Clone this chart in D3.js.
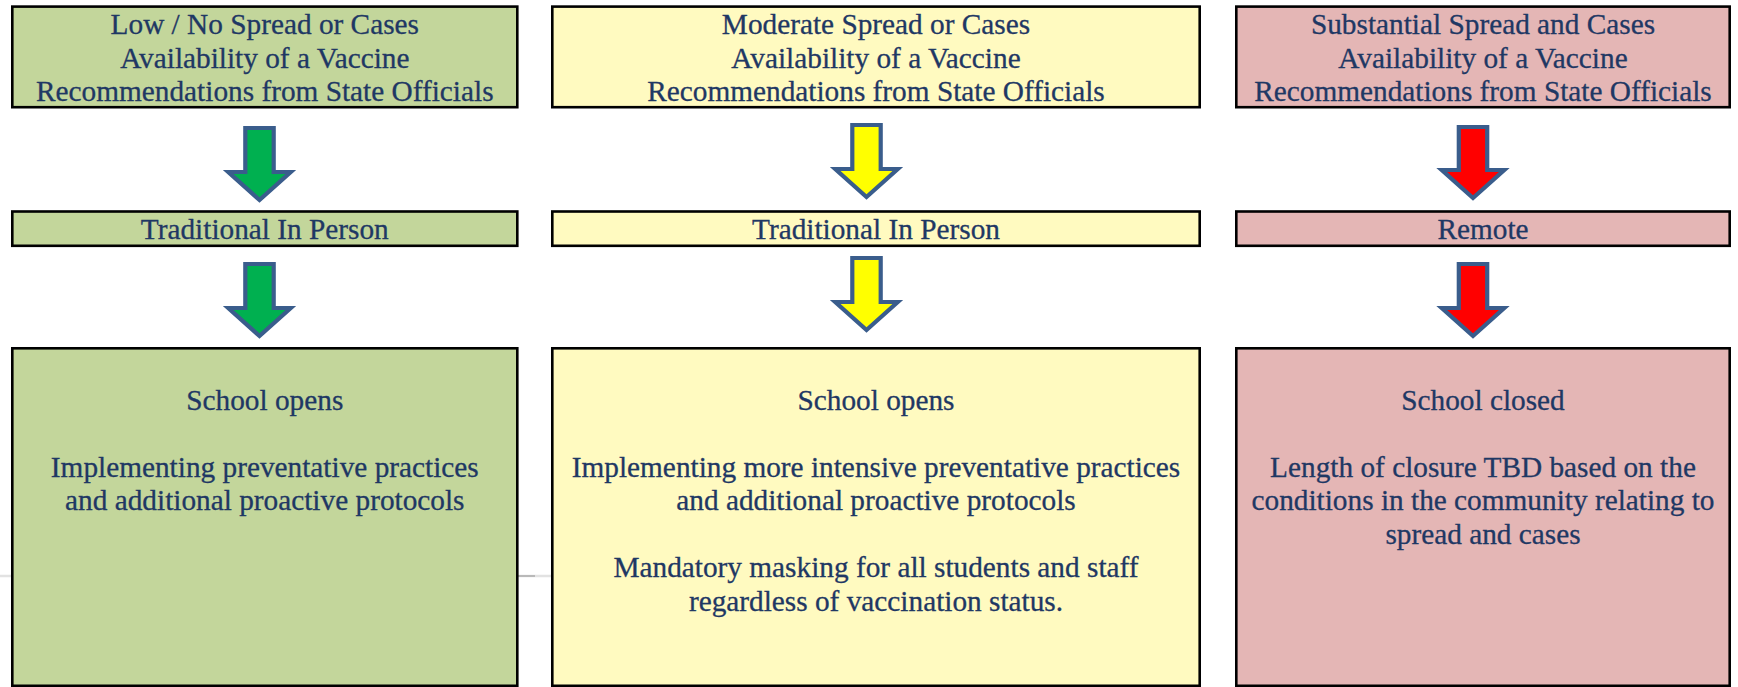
<!DOCTYPE html>
<html>
<head>
<meta charset="utf-8">
<script src="https://cdn.jsdelivr.net/npm/d3@7"></script>
<style>
  html, body { margin: 0; padding: 0; background: #fff; }
  svg { display: block; }
  svg text { font-family: "Liberation Serif", "Times New Roman", Times, serif; }
</style>
</head>
<body>
<div id="chart"></div>
<script>
// levels of spread, one per column
let levels = ["Low / No Spread or Cases", "Moderate Spread or Cases", "Substantial Spread and Cases"];
let conditions = ["Availability of a Vaccine", "Recommendations from State Officials"];
let modes = ["Traditional In Person", "Traditional In Person", "Remote"];
let outcomes = [
    ["School opens", "", "Implementing preventative practices", "and additional proactive protocols"],
    ["School opens", "", "Implementing more intensive preventative practices", "and additional proactive protocols", "", "Mandatory masking for all students and staff", "regardless of vaccination status."],
    ["School closed", "", "Length of closure TBD based on the", "conditions in the community relating to", "spread and cases"]
];

let w = 1738;
let h = 687;

let boxFill = ["#c3d69b", "#fffac0", "#e4b6b5"];
let arrowFill = ["#00b050", "#ffff00", "#ff0000"];
let textColor = "#1f3864";
let fs = 29.3;
let lh = 33.5;

// column edges and arrow centres
let colLeft = d3.scaleOrdinal().domain(d3.range(3)).range([12.3, 552.3, 1236.3]);
let colRight = d3.scaleOrdinal().domain(d3.range(3)).range([517.3, 1199.7, 1729.7]);
let arrowX = d3.scaleOrdinal().domain(d3.range(3)).range([259.5, 866.5, 1473]);

// rows: [top, bottom]
let rows = [[6.6, 107.2], [211.5, 245.8], [348.3, 685.8]];
// arrows: [top, shoulder, tip] for the upper and lower arrow of each column
let arrowRows = [
    [[128, 172, 200], [264, 308, 336]],
    [[125, 169, 197], [258, 302, 330]],
    [[127, 170, 198], [264, 308, 336]]
];

let svg = d3.select("#chart")
    .append("svg")
    .attr("width", w)
    .attr("height", h);

// faint grey rule that shows behind the boxes
svg.append("line")
    .attr("x1", 0).attr("x2", 552)
    .attr("y1", 576).attr("y2", 576)
    .attr("stroke", "#e2e2e2").attr("stroke-width", 2.5);
svg.append("line")
    .attr("x1", 518).attr("x2", 535)
    .attr("y1", 576).attr("y2", 576)
    .attr("stroke", "#b9b9b9").attr("stroke-width", 2);

let cols = svg.selectAll("g.col")
    .data(d3.range(3))
    .enter()
    .append("g")
    .attr("class", "col");

// boxes
rows.forEach((r) => {
    cols.append("rect")
        .attr("x", (i) => colLeft(i))
        .attr("y", r[0])
        .attr("width", (i) => colRight(i) - colLeft(i))
        .attr("height", r[1] - r[0])
        .attr("fill", (i) => boxFill[i])
        .attr("stroke", "#000")
        .attr("stroke-width", 2.6);
});

let cx = (i) => (colLeft(i) + colRight(i)) / 2;

function addLines(sel, linesOf, y0) {
    sel.each(function(i) {
        let g = d3.select(this);
        linesOf(i).forEach((t, k) => {
            if (!t) return;
            g.append("text")
                .attr("x", cx(i))
                .attr("y", y0 + k * lh)
                .attr("text-anchor", "middle")
                .style("font-size", fs + "px")
                .attr("fill", textColor)
                .attr("stroke", textColor)
                .attr("stroke-width", 0.3)
                .text(t);
        });
    });
}

addLines(cols, (i) => [levels[i]].concat(conditions), 34.2);
addLines(cols, (i) => [modes[i]], 238.5);
addLines(cols, (i) => outcomes[i], 409.5);

// down arrows
let shaft = 14.2;
let head = 31.2;
cols.each(function(i) {
    let g = d3.select(this);
    let x = arrowX(i);
    arrowRows[i].forEach((a) => {
        let pts = [
            [x - shaft, a[0]], [x + shaft, a[0]], [x + shaft, a[1]], [x + head, a[1]],
            [x, a[2]], [x - head, a[1]], [x - shaft, a[1]]
        ];
        g.append("path")
            .attr("d", d3.line()(pts) + "Z")
            .attr("fill", arrowFill[i])
            .attr("stroke", "#3a5d8c")
            .attr("stroke-width", 4.2)
            .attr("stroke-linejoin", "miter");
    });
});
</script>
</body>
</html>
